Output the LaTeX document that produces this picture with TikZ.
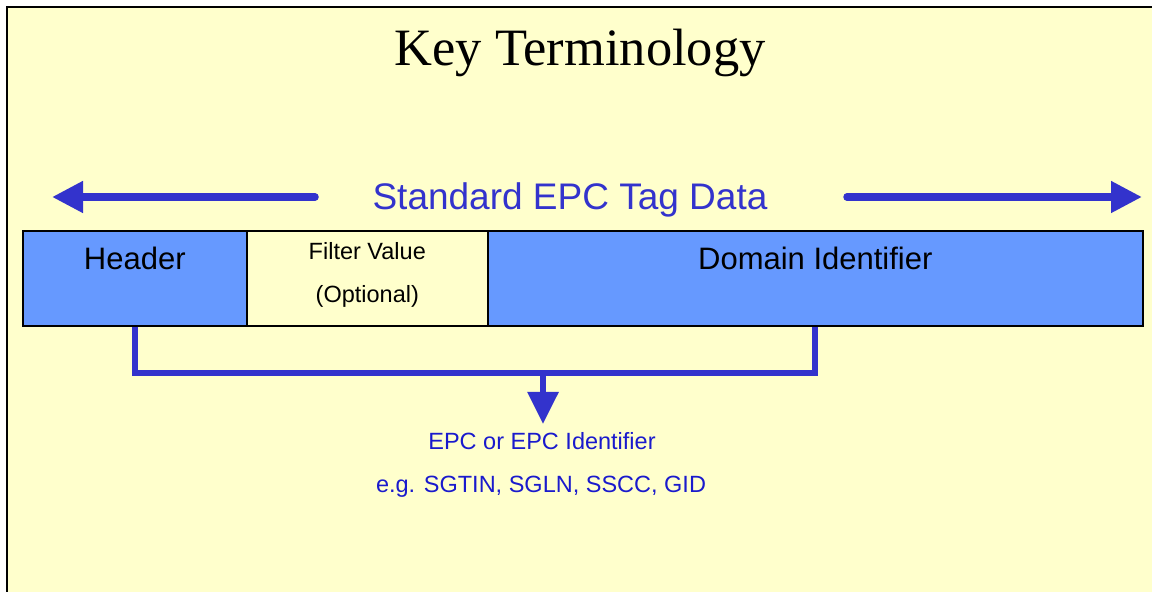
\documentclass[tikz,border=0pt]{standalone}
\usepackage{fontspec}
\setmainfont{Liberation Sans}
\newfontfamily\titlefont{Liberation Serif}
\usetikzlibrary{arrows.meta,positioning}
\definecolor{paper}{HTML}{FFFFCC}
\definecolor{fieldblue}{HTML}{6699FF}
\definecolor{linkblue}{HTML}{3333CC}
\definecolor{noteblue}{HTML}{1A1ACC}
\tikzset{
  field/.style={draw=black, line width=1.6pt, minimum height=95pt,
    inner sep=0pt, anchor=north west},
  fieldtext/.style={anchor=base, inner sep=0pt},
  notetext/.style={anchor=base, inner sep=0pt, text=noteblue,
    font=\fontsize{23.5}{28}\selectfont},
  spanarrow/.style={draw=linkblue, line width=7.5pt, line cap=round,
    -{Triangle[length=31pt, width=30pt]}},
  bracket/.style={draw=linkblue, line width=6pt},
}
\begin{document}
\begin{tikzpicture}[x=1pt, y=1pt]
  \useasboundingbox (0,0) rectangle (1152,592);
  % Background
  \begin{scope}
    \clip (0,0) rectangle (1152,592);
    \fill[paper] (7,-10) rectangle (1170,585);
    \draw[line width=2pt] (7,-10) -- (7,585) -- (1170,585);
  \end{scope}

  % Title
  \node[anchor=base, inner sep=0pt,
    font=\titlefont\fontsize{52.5}{60}\selectfont] (title)
    at (580,526) {Key Terminology};

  % Tag data span
  \node[anchor=base, inner sep=0pt, text=linkblue,
    font=\fontsize{37}{44}\selectfont] (tagdata)
    at (570,382) {Standard EPC Tag Data};
  \coordinate (spanL) at (315,395);
  \coordinate (tipL) at (52,395);
  \coordinate (spanR) at (847,395);
  \coordinate (tipR) at (1142,395);
  \draw[spanarrow] (spanL) -- (tipL);
  \draw[spanarrow] (spanR) -- (tipR);

  % Fields
  \node[field, fill=fieldblue, minimum width=224pt] (header) at (22,362) {};
  \node[field, fill=paper, minimum width=241pt] (filter) at (246,362) {};
  \node[field, fill=fieldblue, minimum width=655pt] (domain) at (487,362) {};

  \node[fieldtext, font=\fontsize{31}{36}\selectfont] (headerlbl)
    at ([yshift=-40pt]header.north) {Header};
  \node[fieldtext, font=\fontsize{23.5}{28}\selectfont] (filterlbl)
    at ([yshift=-29.5pt]filter.north) {Filter Value};
  \node[fieldtext, font=\fontsize{23.5}{28}\selectfont] (optlbl)
    at ([yshift=-73pt]filter.north) {(Optional)};
  \node[fieldtext, font=\fontsize{31}{36}\selectfont] (domainlbl)
    at ([yshift=-40pt]domain.north) {Domain Identifier};

  % Bracket
  \coordinate (join) at (543,219);
  \coordinate (pointer) at (543,168);
  \draw[bracket] (header.south) |- (join) -| (domain.south);
  \draw[bracket, -{Triangle[length=32pt, width=30pt]}] (join) -- (pointer);

  % EPC
  \node[notetext] (epc) at (542,142) {EPC or EPC Identifier};
  \node[notetext] (examples) at (541,99) {e.g. SGTIN, SGLN, SSCC, GID};
\end{tikzpicture}
\end{document}
